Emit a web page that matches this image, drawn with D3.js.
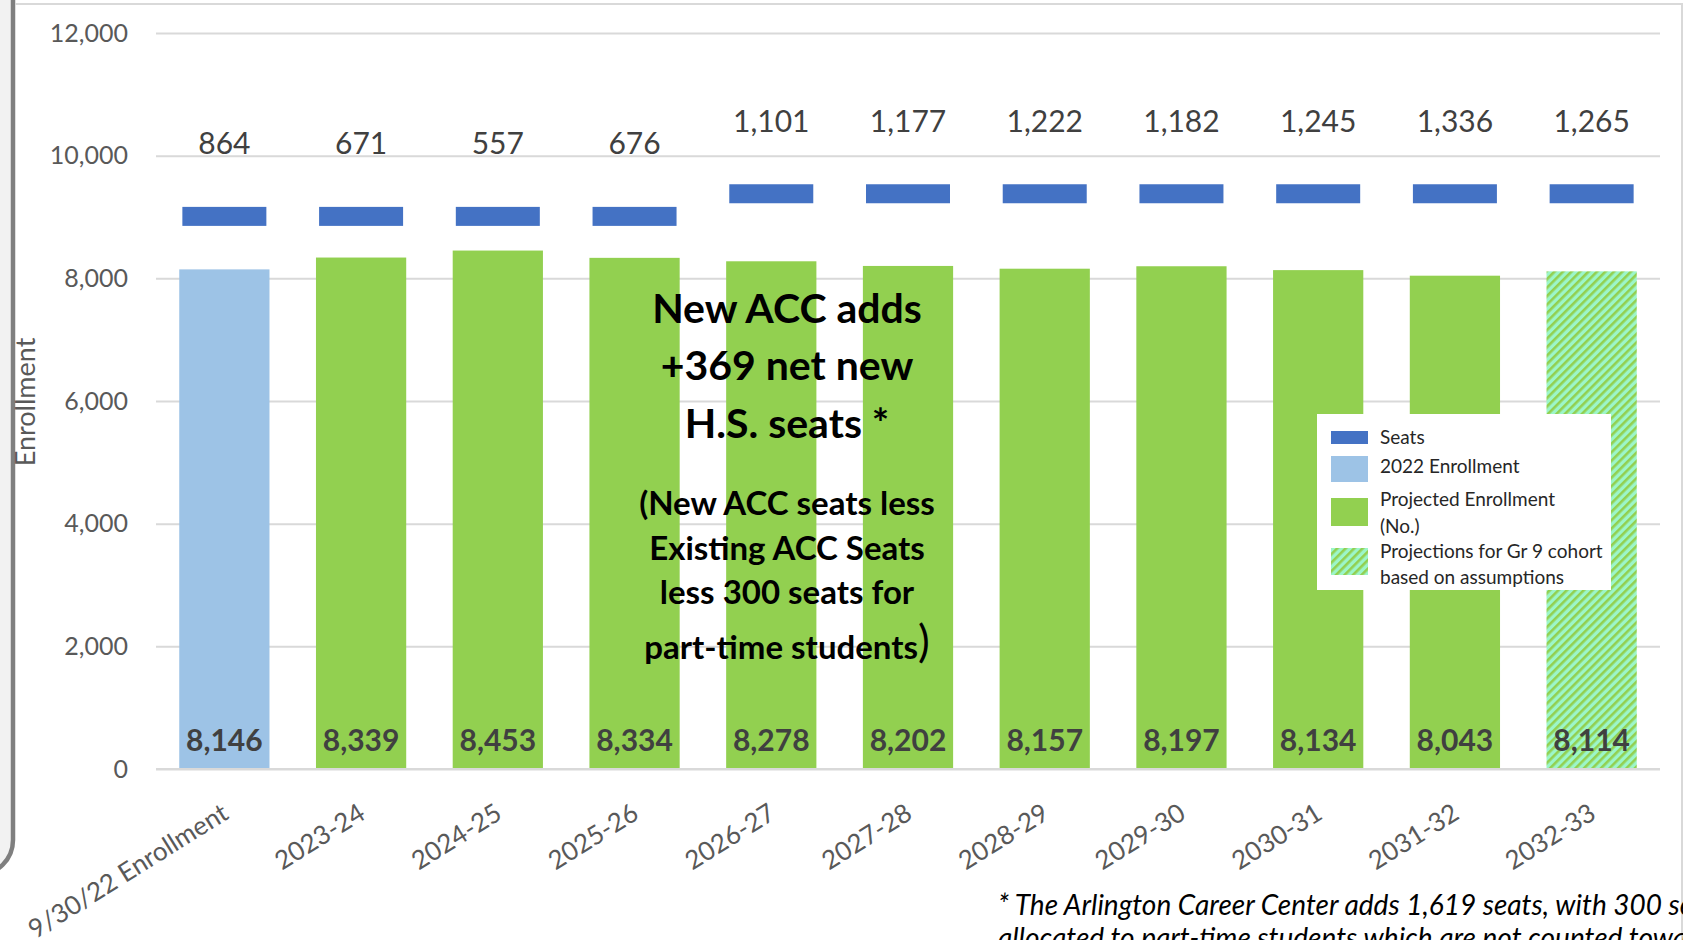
<!DOCTYPE html>
<html>
<head>
<meta charset="utf-8">
<script src="https://cdn.jsdelivr.net/npm/d3@7"></script>
<style>
  html, body { margin: 0; padding: 0; background: #fff; overflow: hidden; }
  svg { display: block; font-family: Lato, "Open Sans", sans-serif; }
</style>
</head>
<body>
<script>
// chart values
const categories = ["9/30/22 Enrollment", "2023-24", "2024-25", "2025-26", "2026-27", "2027-28",
    "2028-29", "2029-30", "2030-31", "2031-32", "2032-33"];
const enrollment = [8146, 8339, 8453, 8334, 8278, 8202, 8157, 8197, 8134, 8043, 8114];
const seats = [9010, 9010, 9010, 9010, 9379, 9379, 9379, 9379, 9379, 9379, 9379];
const surplus = [864, 671, 557, 676, 1101, 1177, 1222, 1182, 1245, 1336, 1265];
const barKind = ["actual", "projected", "projected", "projected", "projected", "projected",
    "projected", "projected", "projected", "projected", "assumed"];
const yTicks = [0, 2000, 4000, 6000, 8000, 10000, 12000];

const legendItems = [
    {kind: "seats", lines: ["Seats"]},
    {kind: "actual", lines: ["2022 Enrollment"]},
    {kind: "projected", lines: ["Projected Enrollment", "(No.)"]},
    {kind: "assumed", lines: ["Projections for Gr 9 cohort", "based on assumptions"]}
];

const noteBig = ["New ACC adds", "+369 net new", "H.S. seats *"];
const noteSmall = ["(New ACC seats less", "Existing ACC Seats", "less 300 seats for", "part-time students"];
const footnote = ["* The Arlington Career Center adds 1,619 seats, with 300 seats",
    "allocated to part-time students which are not counted toward capacity"];

const width = 1683, height = 940;

const svg = d3.select("body").append("svg")
    .attr("width", width)
    .attr("height", height);

// hatch for the assumption bar
const defs = svg.append("defs");
const hatch = defs.append("pattern")
    .attr("id", "hatch")
    .attr("patternUnits", "userSpaceOnUse")
    .attr("width", 6)
    .attr("height", 6)
    .attr("patternTransform", "rotate(45)");
hatch.append("rect").attr("width", 6).attr("height", 6).attr("fill", "#9cf6c9");
hatch.append("rect").attr("width", 2.6).attr("height", 6).attr("fill", "#92d050");

const fills = {actual: "#9dc3e6", projected: "#92d050", assumed: "url(#hatch)", seats: "#4472c4"};

// frame of the slide
svg.append("path")
    .attr("d", "M0,0 L13,0 L13,840 A35,35 0 0 1 -22,875 L0,875 Z")
    .attr("fill", "#f2f2f2");
svg.append("path")
    .attr("d", "M13,0 L13,840 A35,35 0 0 1 -22,875")
    .attr("fill", "none")
    .attr("stroke", "#7f7f7f")
    .attr("stroke-width", 4.5);
svg.append("path")
    .attr("d", "M15,4 L1682,4 L1682,940")
    .attr("fill", "none")
    .attr("stroke", "#d9d9d9")
    .attr("stroke-width", 2);

// scales
const x = d3.scaleBand()
    .domain(categories)
    .range([156, 1660])
    .paddingInner(0.34)
    .paddingOuter(0.17);

const y = d3.scaleLinear()
    .domain([0, 12000])
    .range([769, 33]);

// gridlines + y axis labels
const yAxis = svg.append("g")
    .attr("transform", "translate(156,0)")
    .call(d3.axisLeft(y)
        .tickValues(yTicks)
        .tickSize(-1504)
        .tickPadding(28)
        .tickFormat(d3.format(",")));
yAxis.select(".domain").remove();
yAxis.selectAll(".tick line")
    .attr("stroke", "#d9d9d9")
    .attr("stroke-width", 2);
yAxis.selectAll(".tick text")
    .attr("fill", "#595959")
    .attr("font-size", 25)
    .attr("font-family", "Lato, sans-serif");

svg.append("text")
    .attr("transform", "translate(35,402) rotate(-90)")
    .attr("text-anchor", "middle")
    .attr("fill", "#595959")
    .attr("font-size", 27)
    .text("Enrollment");

// enrollment bars
svg.append("g").selectAll("rect")
    .data(categories)
    .join("rect")
    .attr("x", d => x(d))
    .attr("width", x.bandwidth())
    .attr("y", (d, i) => y(enrollment[i]))
    .attr("height", (d, i) => y(0) - y(enrollment[i]))
    .attr("fill", (d, i) => fills[barKind[i]]);

// seat markers
const markW = 84, markH = 19;
svg.append("g").selectAll("rect")
    .data(categories)
    .join("rect")
    .attr("x", d => x(d) + x.bandwidth() / 2 - markW / 2)
    .attr("width", markW)
    .attr("y", (d, i) => y(seats[i]) - markH / 2)
    .attr("height", markH)
    .attr("fill", fills.seats);

// surplus labels
svg.append("g").selectAll("text")
    .data(categories)
    .join("text")
    .attr("x", d => x(d) + x.bandwidth() / 2)
    .attr("y", (d, i) => y(seats[i]) - 73)
    .attr("dy", "0.36em")
    .attr("text-anchor", "middle")
    .attr("fill", "#404040")
    .attr("font-size", 30)
    .text((d, i) => d3.format(",")(surplus[i]));

// enrollment labels
svg.append("g").selectAll("text")
    .data(categories)
    .join("text")
    .attr("x", d => x(d) + x.bandwidth() / 2)
    .attr("y", y(0) - 29)
    .attr("dy", "0.36em")
    .attr("text-anchor", "middle")
    .attr("fill", "#404040")
    .attr("font-size", 30)
    .attr("font-weight", "bold")
    .text((d, i) => d3.format(",")(enrollment[i]));

// category labels
svg.append("g").selectAll("text")
    .data(categories)
    .join("text")
    .attr("transform", d => `translate(${x(d) + x.bandwidth() / 2 + 1},${y(0) + 41}) rotate(-32)`)
    .attr("text-anchor", "end")
    .attr("dy", "0.35em")
    .attr("fill", "#595959")
    .attr("font-size", 26)
    .text(d => d);

// baseline
svg.append("line")
    .attr("x1", 156).attr("x2", 1660)
    .attr("y1", y(0)).attr("y2", y(0))
    .attr("stroke", "#d9d9d9")
    .attr("stroke-width", 2);

// annotation
const note = svg.append("g")
    .attr("text-anchor", "middle")
    .attr("fill", "#000")
    .attr("font-weight", "bold");
note.selectAll("text.big")
    .data(noteBig)
    .join("text")
    .attr("class", "big")
    .attr("x", 787)
    .attr("y", (d, i) => 308 + i * 57.5)
    .attr("dy", "0.36em")
    .attr("font-size", 41)
    .text(d => d);
const small = note.selectAll("text.small")
    .data(noteSmall)
    .join("text")
    .attr("class", "small")
    .attr("x", 787)
    .attr("y", (d, i) => [503, 548, 592, 647][i])
    .attr("dy", "0.36em")
    .attr("font-size", 33)
    .text(d => d);
small.filter((d, i) => i === noteSmall.length - 1)
    .append("tspan")
    .attr("font-size", 44)
    .attr("font-weight", "normal")
    .attr("dy", "-0.05em")
    .text(")");

// legend
const legend = svg.append("g");
legend.append("rect")
    .attr("x", 1317).attr("y", 414)
    .attr("width", 294).attr("height", 176)
    .attr("fill", "#fff");
const swatch = [
    {y: 431, h: 13}, {y: 456, h: 26}, {y: 498, h: 28}, {y: 548, h: 27}
];
const textY = [[437], [466], [499, 526], [551, 577]];
legendItems.forEach((item, i) => {
    legend.append("rect")
        .attr("x", 1331).attr("y", swatch[i].y)
        .attr("width", 37).attr("height", swatch[i].h)
        .attr("fill", fills[item.kind]);
    item.lines.forEach((line, j) => {
        legend.append("text")
            .attr("x", 1380)
            .attr("y", textY[i][j])
            .attr("dy", "0.36em")
            .attr("fill", "#262626")
            .attr("font-size", 19)
            .text(line);
    });
});

// footnote
svg.append("g").selectAll("text")
    .data(footnote)
    .join("text")
    .attr("x", 998)
    .attr("y", (d, i) => 915 + i * 33)
    .attr("fill", "#000")
    .attr("font-size", 28)
    .attr("font-style", "italic")
    .text(d => d);
</script>
</body>
</html>
